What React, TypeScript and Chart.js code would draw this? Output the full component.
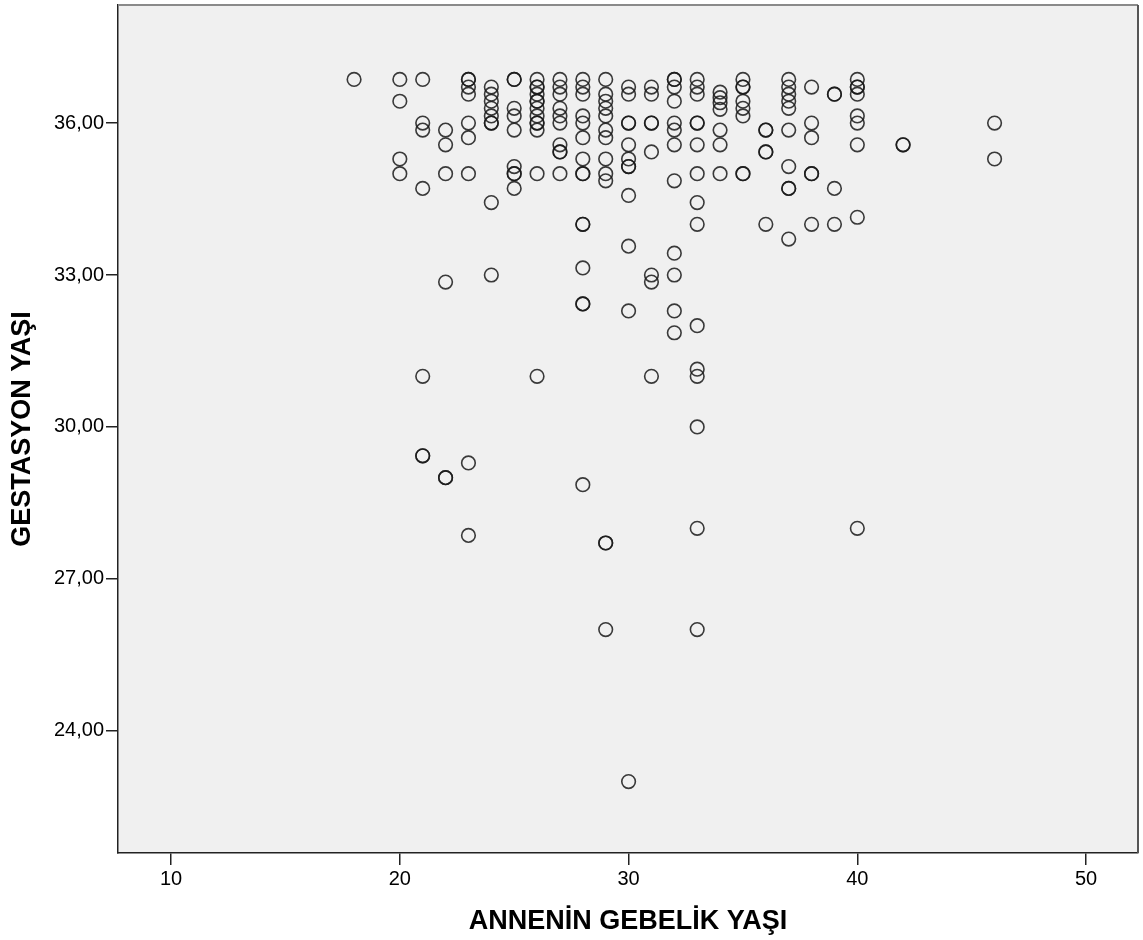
import React, { useEffect, useRef } from "react";
import { Chart, registerables } from "chart.js";

Chart.register(...registerables);

// Mother's age at pregnancy (x) and gestational age in weeks (y), grouped by age
const g18 = [36.86];
const g20 = [36.86, 36.43, 35.29, 35.0];
const g21 = [36.86, 36.0, 35.86, 34.71, 31.0, 29.43, 29.43];
const g22 = [35.86, 35.57, 35.0, 32.86, 29.0, 29.0];
const g23 = [36.86, 36.86, 36.71, 36.57, 36.0, 35.71, 35.0, 29.29, 27.86];
const g24 = [36.71, 36.57, 36.43, 36.29, 36.14, 36.0, 36.0, 34.43, 33.0];
const g25 = [36.86, 36.86, 36.29, 36.14, 35.86, 35.14, 35.0, 35.0, 34.71];
const g26 = [36.86, 36.71, 36.71, 36.57, 36.43, 36.43, 36.29, 36.14, 36.0, 36.0, 35.86, 35.0, 31.0];
const g27 = [36.86, 36.71, 36.57, 36.29, 36.14, 36.0, 35.57, 35.43, 35.43, 35.0];
const g28 = [36.86, 36.71, 36.57, 36.14, 36.0, 35.71, 35.29, 35.0, 35.0, 34.0, 34.0, 33.14, 32.43, 32.43, 28.86];
const g29 = [36.86, 36.57, 36.43, 36.29, 36.14, 35.86, 35.71, 35.29, 35.0, 34.86, 27.71, 27.71, 26.0];
const g30 = [36.71, 36.57, 36.0, 36.0, 35.57, 35.29, 35.14, 35.14, 34.57, 33.57, 32.29, 23.0];
const g31 = [36.71, 36.57, 36.0, 36.0, 35.43, 33.0, 32.86, 31.0];
const g32 = [36.86, 36.86, 36.71, 36.43, 36.0, 35.86, 35.57, 34.86, 33.43, 33.0, 32.29, 31.86];
const g33 = [36.86, 36.71, 36.57, 36.0, 36.0, 35.57, 35.0, 34.43, 34.0, 32.0, 31.14, 31.0, 30.0, 28.0, 26.0];
const g34 = [36.61, 36.5, 36.4, 36.27, 35.86, 35.57, 35.0];
const g35 = [36.86, 36.71, 36.71, 36.43, 36.29, 36.14, 35.0, 35.0];
const g36 = [35.86, 35.86, 35.43, 35.43, 34.0];
const g37 = [36.86, 36.71, 36.57, 36.43, 36.29, 35.86, 35.14, 34.71, 34.71, 33.71];
const g38 = [36.71, 36.0, 35.71, 35.0, 35.0, 34.0];
const g39 = [36.57, 36.57, 34.71, 34.0];
const g40 = [36.86, 36.71, 36.71, 36.57, 36.14, 36.0, 35.57, 34.14, 28.0];
const g42 = [35.57, 35.57];
const g46 = [36.0, 35.29];

const motherAges = [18, 20, 21, 22, 23, 24, 25, 26, 27, 28, 29, 30, 31, 32, 33, 34, 35, 36, 37, 38, 39, 40, 42, 46];
const gestationByAge = [g18, g20, g21, g22, g23, g24, g25, g26, g27, g28, g29, g30, g31, g32, g33, g34, g35, g36, g37, g38, g39, g40, g42, g46];

const xTicks = [10, 20, 30, 40, 50];
const yTicks = [24, 27, 30, 33, 36];

const xTitle = "ANNENİN GEBELİK YAŞI";
const yTitle = "GESTASYON YAŞI";

export default function App() {
  const ref = useRef<HTMLCanvasElement | null>(null);

  useEffect(() => {
    if (!ref.current) return;
    const points: { x: number; y: number }[] = [];
    motherAges.forEach((age, i) => {
      gestationByAge[i].forEach((g) => points.push({ x: age, y: g }));
    });

    const framePlugin = {
      id: "frame",
      beforeDraw(chart: any) {
        const { ctx, chartArea } = chart;
        ctx.save();
        ctx.fillStyle = "#f0f0f0";
        ctx.fillRect(chartArea.left, chartArea.top, chartArea.right - chartArea.left, chartArea.bottom - chartArea.top);
        ctx.restore();
      },
      afterDraw(chart: any) {
        const { ctx, chartArea } = chart;
        ctx.save();
        ctx.lineWidth = 2;
        ctx.strokeStyle = "#8a8a8a";
        ctx.beginPath();
        ctx.moveTo(chartArea.left, chartArea.top);
        ctx.lineTo(chartArea.right, chartArea.top);
        ctx.stroke();
        ctx.strokeStyle = "#555";
        ctx.beginPath();
        ctx.moveTo(chartArea.right, chartArea.top);
        ctx.lineTo(chartArea.right, chartArea.bottom);
        ctx.stroke();
        ctx.restore();
      },
    };

    const chart = new Chart(ref.current, {
      type: "scatter",
      data: {
        datasets: [
          {
            data: points,
            pointRadius: 6.8,
            pointHoverRadius: 6.8,
            pointBorderWidth: 1.6,
            pointBackgroundColor: "rgba(0,0,0,0)",
            pointBorderColor: "rgba(25,25,25,0.85)",
          },
        ],
      },
      options: {
        animation: false,
        responsive: false,
        devicePixelRatio: 1,
        layout: { autoPadding: false, padding: { left: 0, top: 5, right: 5, bottom: 0 } },
        plugins: {
          legend: { display: false },
          tooltip: { enabled: false },
        },
        scales: {
          x: {
            type: "linear",
            min: 7.68,
            max: 52.27,
            afterBuildTicks: (scale: any) => {
              scale.ticks = xTicks.map((v) => ({ value: v }));
            },
            afterFit: (scale: any) => {
              scale.height = 87;
              scale.paddingLeft = 0;
              scale.paddingRight = 0;
            },
            ticks: {
              color: "#000",
              font: { family: "'Liberation Sans', Arial, sans-serif", size: 20 },
              padding: 2,
              maxRotation: 0,
              autoSkip: false,
              callback: (v: any) => String(v),
            },
            grid: { display: true, drawOnChartArea: false, tickLength: 12, color: "#222", lineWidth: 1.5 },
            border: { display: true, color: "#222", width: 1.5 },
            title: {
              display: true,
              text: xTitle,
              color: "#000",
              font: { family: "'Liberation Sans', Arial, sans-serif", size: 27, weight: "bold" },
              padding: { top: 0, bottom: 2 },
            },
          },
          y: {
            type: "linear",
            min: 21.59,
            max: 38.33,
            afterBuildTicks: (scale: any) => {
              scale.ticks = yTicks.map((v) => ({ value: v }));
            },
            afterFit: (scale: any) => {
              scale.width = 118;
              scale.paddingTop = 0;
              scale.paddingBottom = 0;
            },
            ticks: {
              color: "#000",
              font: { family: "'Liberation Sans', Arial, sans-serif", size: 20 },
              padding: 2,
              autoSkip: false,
              callback: (v: any) => Number(v).toFixed(2).replace(".", ","),
            },
            grid: { display: true, drawOnChartArea: false, tickLength: 12, color: "#222", lineWidth: 1.5 },
            border: { display: true, color: "#222", width: 1.5 },
            title: {
              display: true,
              text: yTitle,
              color: "#000",
              font: { family: "'Liberation Sans', Arial, sans-serif", size: 27, weight: "bold" },
              padding: { top: 6, bottom: 0 },
            },
          },
        },
      },
      plugins: [framePlugin],
    } as any);

    return () => chart.destroy();
  }, []);

  return (
    <div style={{ position: "fixed", left: 0, top: 0, width: 1143, height: 940, background: "#fff" }}>
      <canvas ref={ref} width={1143} height={940} style={{ display: "block" }} />
    </div>
  );
}
